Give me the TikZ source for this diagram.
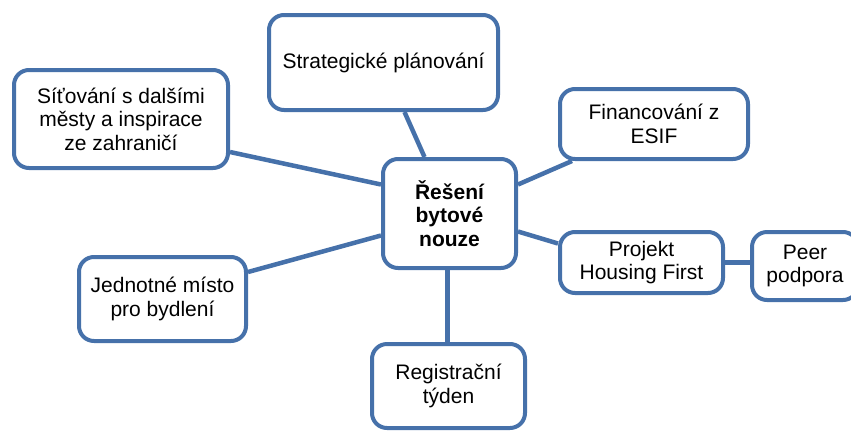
\documentclass[tikz,border=0pt]{standalone}
\usepackage{fontspec}
\setmainfont{Liberation Sans}
\definecolor{boxblue}{RGB}{70,113,170}

\begin{document}
\begin{tikzpicture}[x=1pt,y=-1pt,
  box/.style={draw=boxblue, line width=4pt, rounded corners=15pt, fill=white,
    align=center, inner sep=0pt, font=\fontsize{21}{23.5}\selectfont},
  link/.style={draw=boxblue, line width=4.5pt}]
\useasboundingbox (0,0) rectangle (851,432);
% boxes
\node[box, minimum width=229pt, minimum height=95pt] (strat) at (383.5,62.5) {\raisebox{-3pt}{Strategické plánování}};
\node[box, minimum width=214pt, minimum height=98pt] (sit) at (121,119) {Síťování s dalšími\\městy a inspirace\\ze zahraničí};
\node[box, minimum width=188pt, minimum height=70pt] (fin) at (654,124) {Financování z\\ESIF};
\node[box, minimum width=163pt, minimum height=61pt] (proj) at (641.5,262.5) {Projekt\\Housing First};
\node[box, minimum width=106pt, minimum height=68pt] (peer) at (805,266) {Peer\\podpora};
\node[box, minimum width=167pt, minimum height=84pt] (jed) at (162.5,299) {Jednotné místo\\pro bydlení};
\node[box, minimum width=153pt, minimum height=84pt] (reg) at (448.5,386) {Registrační\\týden};
\node[box, minimum width=133pt, minimum height=109pt, font=\fontsize{21}{23.5}\selectfont\bfseries] (ctr) at (449.5,213.5) {Řešení\\bytové\\nouze};
% connectors
\draw[link] ([xshift=21pt]strat.south) -- ([xshift=-25pt]ctr.north);
\draw[link] ([yshift=-33pt]sit.east) -- ([yshift=29pt]ctr.west);
\draw[link] ([xshift=14pt]fin.south west) -- ([yshift=29pt]ctr.east);
\draw[link] ([yshift=19pt]proj.west) -- ([yshift=-18pt]ctr.east);
\draw[link] (proj.east) -- (proj.east -| peer.west);
\draw[link] ([yshift=27pt]jed.east) -- ([yshift=-22pt]ctr.west);
\draw[link] ([xshift=-2pt]ctr.south) -- ([xshift=-2pt]ctr.south |- reg.north);
\end{tikzpicture}
\end{document}
